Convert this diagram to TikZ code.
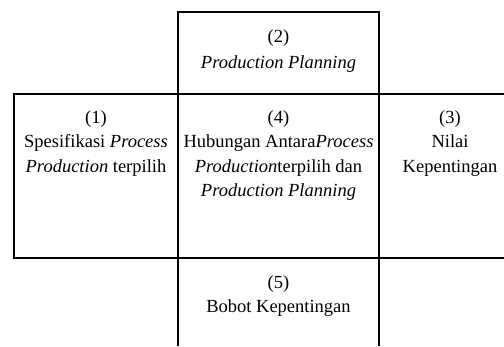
\documentclass[tikz,border=0pt]{standalone}
\usepackage{fontspec}
\setmainfont{Liberation Serif}[Ligatures=CommonOff]
\usetikzlibrary{positioning}

\begin{document}
\begin{tikzpicture}[x=1pt, y=-1pt, line width=1.3pt,
  cell/.style={draw, minimum width=201pt, minimum height=164pt,
               inner sep=0pt, outer sep=0pt},
  txt/.style={align=center, inner sep=0pt, anchor=north,
              font=\fontsize{18.5}{24.5}\selectfont}]
  \useasboundingbox (0,0) rectangle (504,346);
  \coordinate (edge) at (504,346);
  % kotak (4) di tengah, lalu (2) dan (1) menempel padanya
  \node (rel) [cell] at (278.5,176) {};
  \node (plan) [cell, minimum height=82pt, above=0pt of rel] {};
  \node (spec) [cell, minimum width=164pt, left=0pt of rel] {};
  % (3) dan (5) terbuka ke tepi gambar
  \draw (rel.north east) -- (rel.north east -| edge);
  \draw (rel.south east) -- (rel.south east -| edge);
  \draw (rel.south west) -- (rel.south west |- edge);
  \draw (rel.south east) -- (rel.south east |- edge);

  \node (plantxt) [txt, below=17pt of plan.north,
                   font=\fontsize{18.5}{26}\selectfont]
    {(2)\\\textit{Production Planning}};
  \node (spectxt) [txt, below=16pt of spec.north]
    {(1)\\Spesifikasi \textit{Process}\\\textit{Production} terpilih};
  \node (reltxt) [txt, below=16pt of rel.north]
    {(4)\\Hubungan Antara\textit{Process}\\\textit{Production}terpilih dan\\\textit{Production Planning}};
  \node (nilaitxt) [txt, below=16pt of rel.north east, xshift=71pt]
    {(3)\\Nilai\\Kepentingan};
  \node (bobottxt) [txt, below=17pt of rel.south]
    {(5)\\Bobot Kepentingan};
\end{tikzpicture}
\end{document}
